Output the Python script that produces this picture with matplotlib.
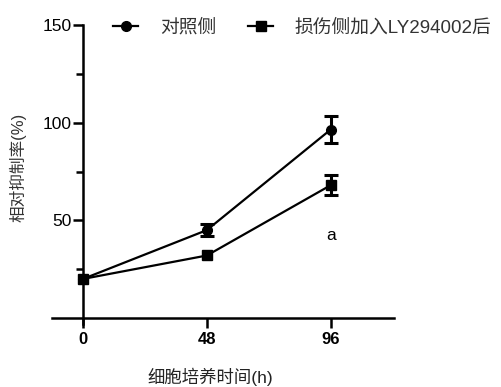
import matplotlib
matplotlib.use('Agg')
import matplotlib.pyplot as plt
from matplotlib.ticker import FixedLocator

plt.rcParams['font.family'] = ['Liberation Sans', 'Noto Sans CJK SC']

hours = [0, 48, 96]
ctrl = [20, 45, 96.5]
ctrl_err = [0, 3, 7]
ly = [20, 32, 68]
ly_err = [0, 0, 5]
xticks = [0, 48, 96]
yticks = [50, 100, 150]
yminor = [25, 75, 125]

fig = plt.figure(figsize=(5.01, 3.87), dpi=100)
ax = fig.add_axes([52/501, 1 - 318/387, (394 - 52)/501, 293/387])

series = [(ctrl, ctrl_err, 'o', 7, '对照侧'),
          (ly, ly_err, 's', 7, '损伤侧加入LY294002后')]
for vals, errs, mk, ms, lab in series:
    ax.plot(hours, vals, color='black', lw=1.6, marker=mk, ms=ms, label=lab, clip_on=False)
    idx = [i for i, e in enumerate(errs) if e > 0]
    ax.errorbar([hours[i] for i in idx], [vals[i] for i in idx],
                yerr=[errs[i] for i in idx], fmt='none', ecolor='black',
                capsize=5, capthick=2.2, elinewidth=2.2)

ax.set_xlim(-12, 120.5)
ax.set_ylim(0, 150)
ax.spines['left'].set_position(('data', 0))
ax.spines['left'].set_bounds(-3, 150)
ax.spines['right'].set_visible(False)
ax.spines['top'].set_visible(False)
for s in ['left', 'bottom']:
    ax.spines[s].set_linewidth(1.8)

ax.set_xticks(xticks)
ax.set_xticklabels([str(v) for v in xticks], fontweight='bold', fontsize=12)
ax.set_yticks(yticks)
ax.set_yticklabels([str(v) for v in yticks], fontsize=12.5)
ax.yaxis.set_minor_locator(FixedLocator(yminor))
ax.tick_params(axis='x', length=7, width=1.8, pad=3)
ax.tick_params(axis='y', which='major', length=7, width=1.8, pad=1)
ax.tick_params(axis='y', which='minor', length=5, width=1.8)

ax.text(96, 42, 'a', fontsize=12.5, ha='center', va='center')

fig.text(18/501, 1 - 167/387, '相对抑制率(%)', rotation=90, ha='center', va='center',
         fontsize=12, color='#333333')
fig.text(210/501, 1 - 377/387, '细胞培养时间(h)', ha='center', va='center',
         fontsize=12.5, color='#222222')

leg = ax.legend(loc='center left', bbox_to_anchor=(0.178, 0.99), ncol=2, frameon=False,
                fontsize=13.5, handlelength=1.35, columnspacing=1.7, handletextpad=1.15,
                borderaxespad=0, borderpad=0)
for t in leg.get_texts():
    t.set_color('#333333')

fig.savefig('out.png', dpi=100)
